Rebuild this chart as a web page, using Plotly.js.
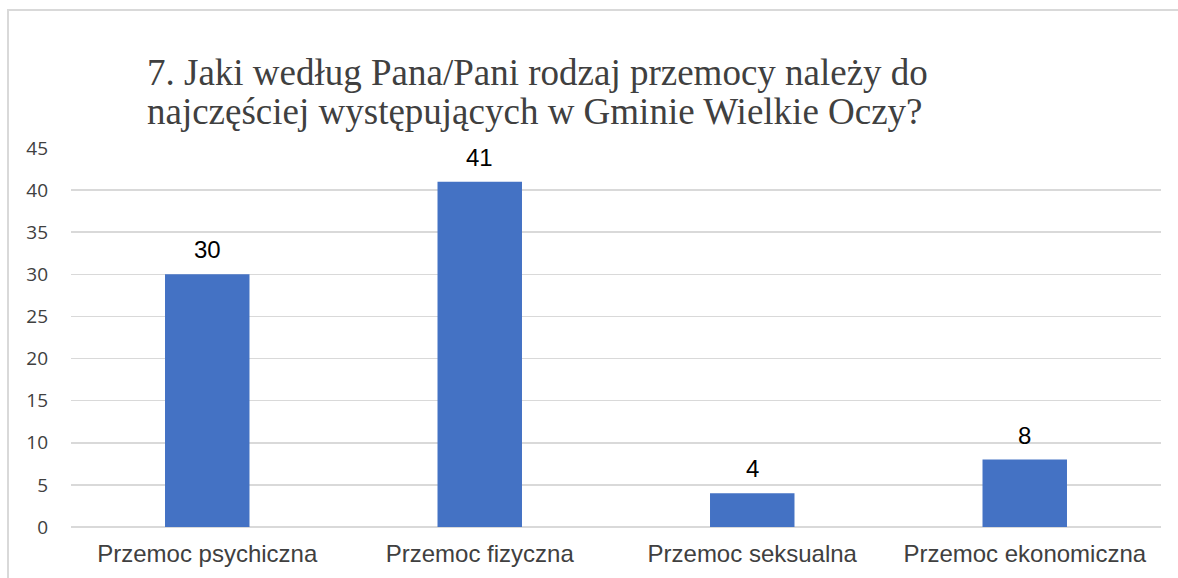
<!DOCTYPE html>
<html><head><meta charset="utf-8">
<script src="https://cdn.plot.ly/plotly-3.0.1.min.js"></script>
<style>
html,body{margin:0;padding:0;background:#fff;}
#frame{position:absolute;left:7px;top:9px;width:1300px;height:700px;border:2px solid #d9d9d9;box-sizing:border-box;pointer-events:none;}
#chart{position:absolute;left:0;top:0;width:1178px;height:578px;}
</style></head>
<body>
<div id="chart"></div>
<div id="frame"></div>
<script>
const categories = ["Przemoc psychiczna", "Przemoc fizyczna", "Przemoc seksualna", "Przemoc ekonomiczna"];
const values = [30, 41, 4, 8];
const yTicks = [0, 5, 10, 15, 20, 25, 30, 35, 40, 45];
const titleLines = ["7. Jaki według Pana/Pani rodzaj przemocy należy do", "najczęściej występujących w Gminie Wielkie Oczy?"];

const W = 1178, H = 578, M = {l: 71, r: 17, t: 148, b: 51};
const pw = W - M.l - M.r, ph = H - M.t - M.b;
const px2x = px => (px - M.l) / pw;
const py2y = py => (H - M.b - py) / ph;

const titleFont = {family: "Liberation Serif, Times New Roman", size: 37, color: "#404040"};
const titleAnns = titleLines.map((t, i) => ({
  text: t, xref: "paper", yref: "paper",
  x: px2x(145), y: py2y([95, 134][i]),
  xanchor: "left", yanchor: "bottom", showarrow: false,
  font: titleFont
}));
const labelAnns = values.map((v, i) => ({
  text: String(v), x: categories[i], y: v, xref: "x", yref: "y",
  xanchor: "center", yanchor: "bottom", showarrow: false, yshift: 9,
  font: {family: "Liberation Sans, Arial", size: 24, color: "#000"}
}));

Plotly.newPlot("chart", [{
  type: "bar",
  x: categories,
  y: values,
  marker: {color: "#4472C4"},
  hoverinfo: "none"
}], {
  width: W, height: H,
  margin: M,
  paper_bgcolor: "rgba(0,0,0,0)",
  plot_bgcolor: "#fff",
  bargap: 0.69,
  showlegend: false,
  annotations: titleAnns.concat(labelAnns),
  xaxis: {
    type: "category",
    tickfont: {family: "Liberation Sans, Arial", size: 24, color: "#404040"},
    showline: false, ticks: "", showgrid: false, zeroline: false,
    ticklabelstandoff: 10
  },
  yaxis: {
    range: [0, 45],
    tickvals: yTicks,
    ticktext: yTicks.map(String),
    tickfont: {family: "Open Sans, Liberation Sans", size: 19, color: "#404040"},
    gridcolor: "#d9d9d9", gridwidth: 1.5,
    zeroline: true, zerolinecolor: "#d9d9d9", zerolinewidth: 1.5,
    showline: false, ticks: "", ticklen: 0,
    ticklabelstandoff: 22
  }
}, {staticPlot: true});
</script>
</body></html>
